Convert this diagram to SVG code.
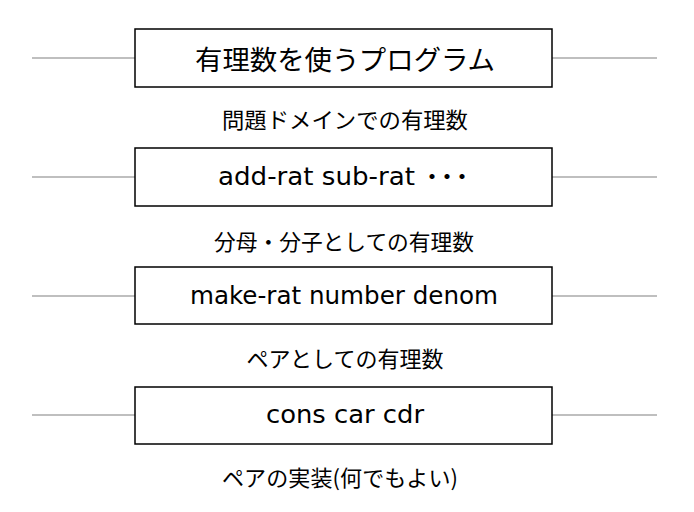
<svg xmlns="http://www.w3.org/2000/svg" width="694" height="512" viewBox="0 0 694 512">
<style>
.box{fill:#fff;stroke:#000;stroke-width:1.5}
.ln{stroke:#808080;stroke-width:1.2;fill:none}
.t{font-family:"Noto Sans CJK JP","Noto Sans",sans-serif;fill:#000;text-anchor:middle;dominant-baseline:central}
.big{font-size:27px}
.mid{font-family:"DejaVu Sans","Noto Sans CJK JP",sans-serif;font-size:24px}
.lab{font-size:22px}
.s{text-anchor:start}
</style>
<rect width="694" height="512" fill="#fff"/>
<g id="connectors">
<line class="ln" x1="32" y1="58" x2="135" y2="58"/>
<line class="ln" x1="552" y1="58" x2="657" y2="58"/>
<line class="ln" x1="32" y1="177" x2="135" y2="177"/>
<line class="ln" x1="552" y1="177" x2="657" y2="177"/>
<line class="ln" x1="32" y1="296" x2="135" y2="296"/>
<line class="ln" x1="552" y1="296" x2="657" y2="296"/>
<line class="ln" x1="32" y1="415" x2="135" y2="415"/>
<line class="ln" x1="552" y1="415" x2="657" y2="415"/>
</g>
<g id="node1">
<rect class="box" x="135" y="29" width="417" height="58"/>
<text class="t big s" x="195" y="58" textLength="300" lengthAdjust="spacingAndGlyphs">有理数を使うプログラム</text>
</g>
<text class="t lab s" x="222" y="118" textLength="246" lengthAdjust="spacingAndGlyphs">問題ドメインでの有理数</text>
<g id="node2">
<rect class="box" x="135" y="148" width="417" height="58"/>
<text class="t mid s" x="218" y="177" textLength="197" lengthAdjust="spacingAndGlyphs">add-rat sub-rat</text>
<text class="t mid s" x="420" y="177" letter-spacing="-9">・・・</text>
</g>
<text class="t lab s" x="214" y="240" textLength="260" lengthAdjust="spacingAndGlyphs">分母・分子としての有理数</text>
<g id="node3">
<rect class="box" x="135" y="267" width="417" height="57"/>
<text class="t mid s" x="190" y="296" textLength="308" lengthAdjust="spacingAndGlyphs">make-rat number denom</text>
</g>
<text class="t lab" x="345" y="357">ペアとしての有理数</text>
<g id="node4">
<rect class="box" x="135" y="387" width="417" height="57"/>
<text class="t mid s" x="266" y="415" textLength="158" lengthAdjust="spacingAndGlyphs">cons car cdr</text>
</g>
<text class="t lab s" x="222" y="476" textLength="236" lengthAdjust="spacing">ペアの実装(何でもよい)</text>
</svg>
